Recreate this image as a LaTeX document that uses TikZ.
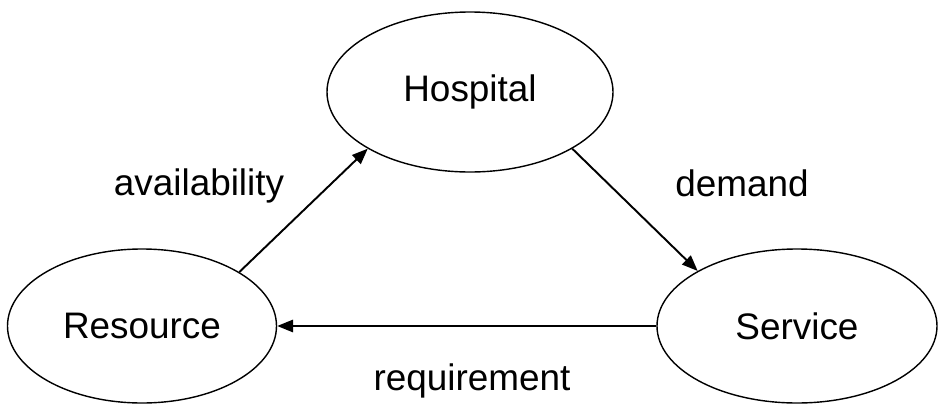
\documentclass[tikz,border=0pt]{standalone}
\usepackage{fontspec}
\setmainfont{Liberation Sans}
\usepackage{tikz}
\usetikzlibrary{arrows.meta,shapes.geometric}

\tikzset{
	entity/.style={draw, ellipse, line width=0.8pt, inner sep=0pt, font=\fontsize{21}{25}\selectfont},
	rel/.style={-{Triangle[length=9pt,width=7pt]}, line width=1.1pt},
	lbl/.style={anchor=base, inner sep=0pt, font=\fontsize{21}{25}\selectfont}
}

\begin{document}
\begin{tikzpicture}
			\useasboundingbox (0,0) rectangle (18.76,8.1);
			
			\node[entity, minimum width=5.72cm, minimum height=3.2cm] (hosp) at (9.40,6.26) {Hospital};
			\node[entity, minimum width=5.38cm, minimum height=3.08cm] (res) at (2.84,1.58) {Resource};
			\node[entity, minimum width=5.60cm, minimum height=3.08cm] (ser) at (15.94,1.58) {Service};
			
			\draw [rel] (res.29) -- (hosp.209);
			\draw [rel] (hosp.331) -- (ser.151);
			\draw [rel] (ser.180) -- (res.0);
			
			\node[lbl] (avail) at (3.98,4.20) {availability};
			\node[lbl] (dem) at (14.84,4.18) {demand};
			\node[lbl] (req) at (9.44,0.30) {requirement};
		\end{tikzpicture}
\end{document}
